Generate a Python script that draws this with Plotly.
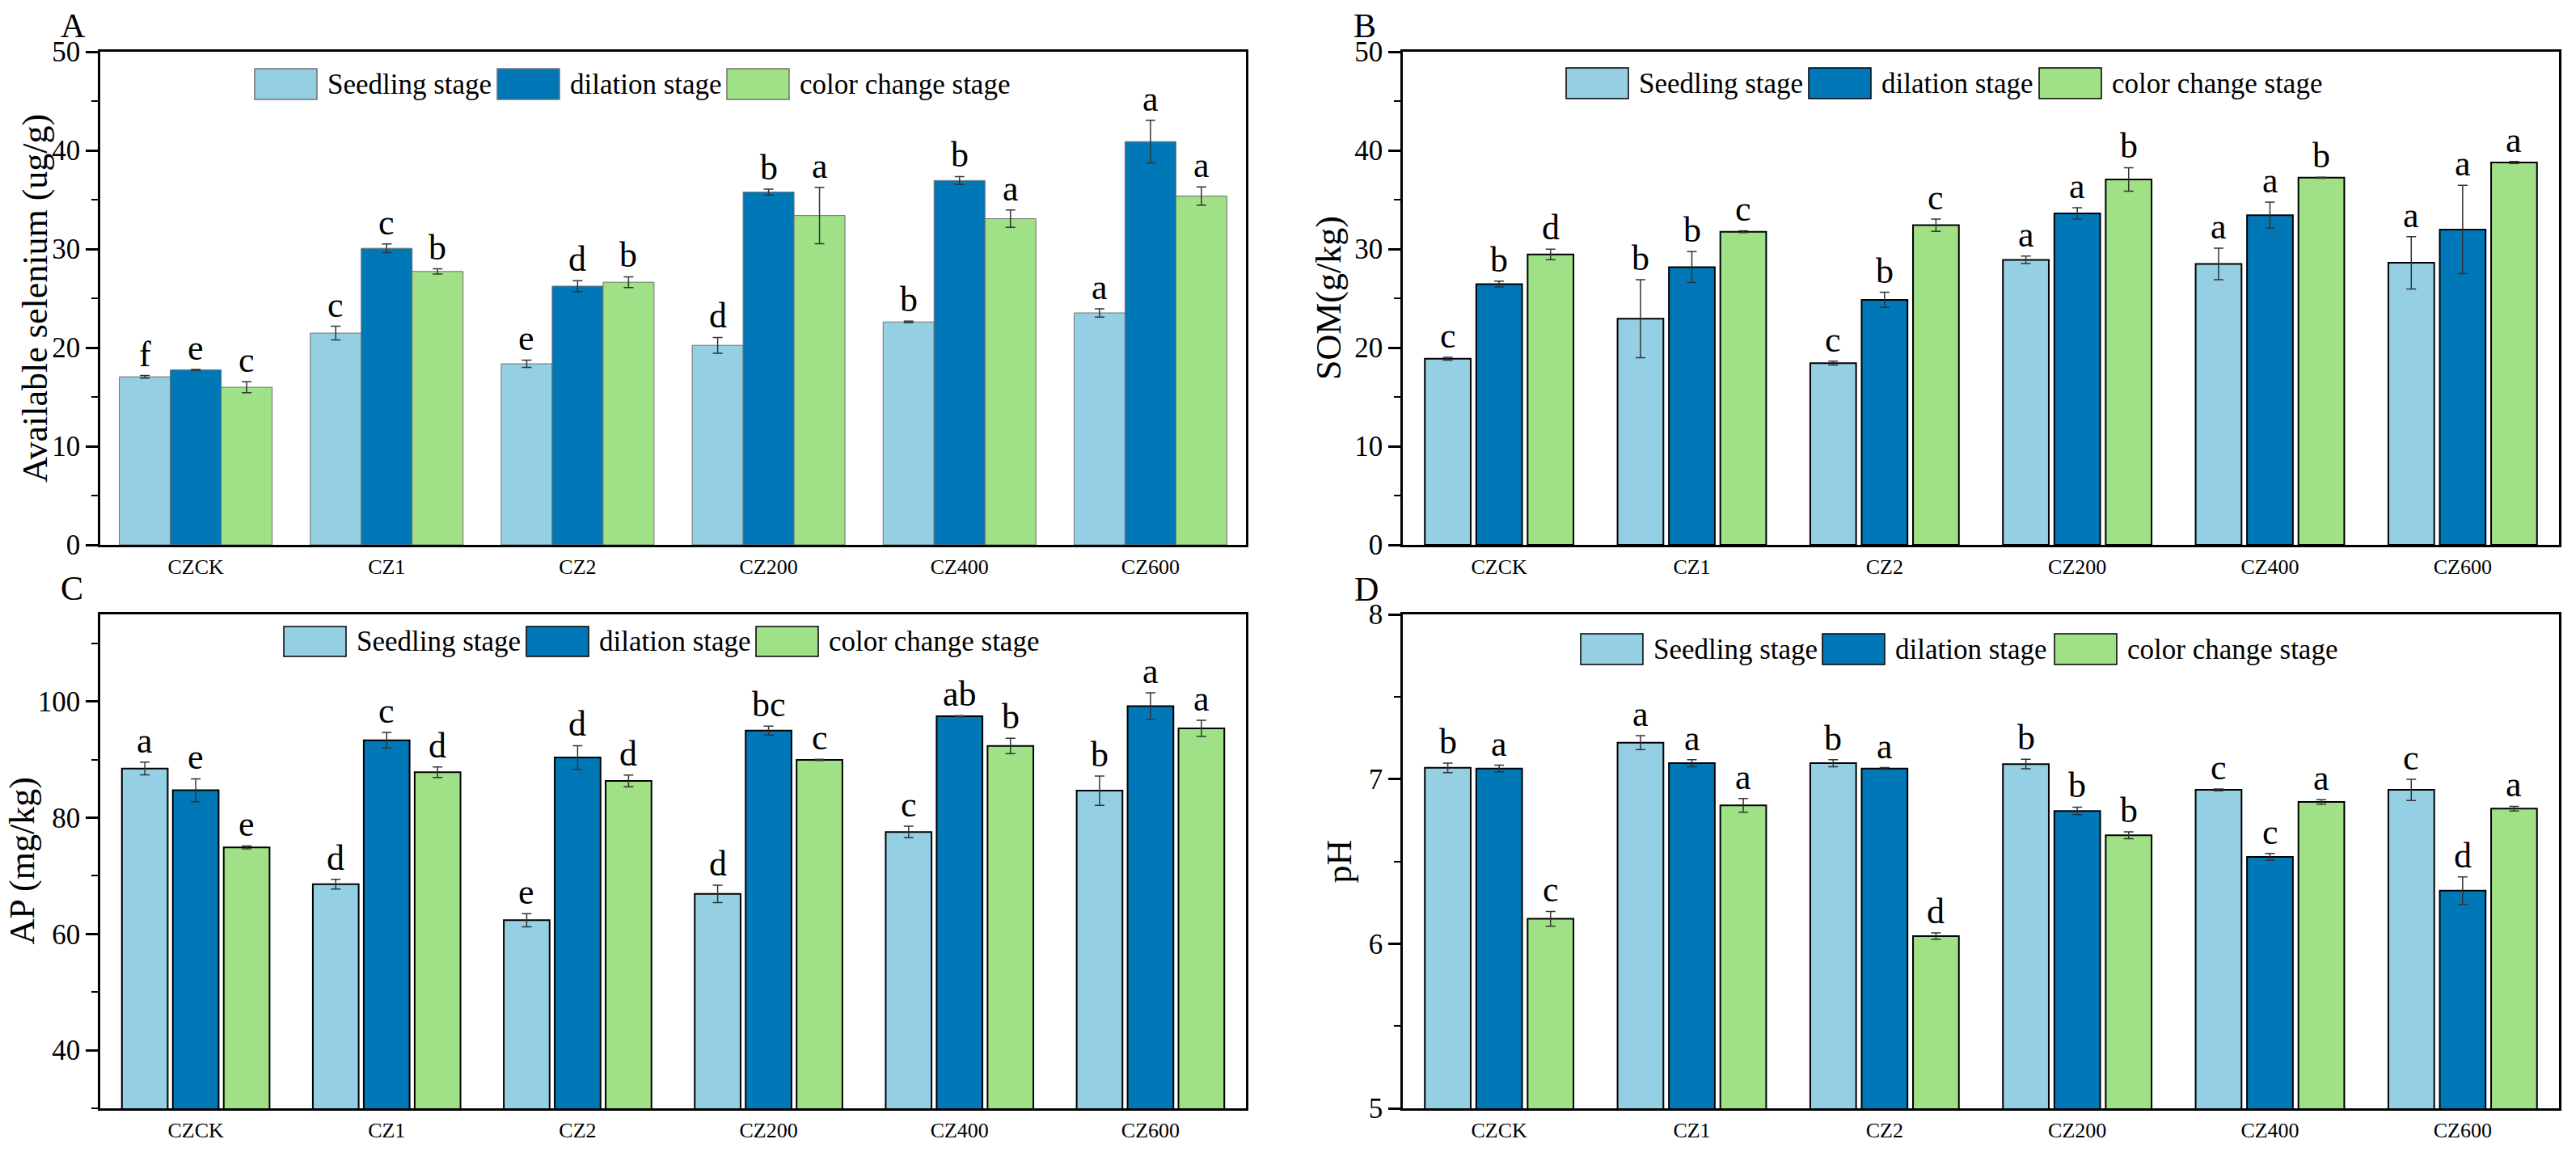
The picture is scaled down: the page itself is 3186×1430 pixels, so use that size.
import plotly.graph_objects as go

W, H = 3186, 1430
FONT = "Liberation Serif, Times New Roman, serif"

categories = ["CZCK", "CZ1", "CZ2", "CZ200", "CZ400", "CZ600"]
series_names = ["Seedling stage", "dilation stage", "color change stage"]
series_colors = ["#94CFE4", "#0078B8", "#A0E086"]

# Panel A: Available selenium (ug/g)
se_seedling = [17.04, 21.47, 18.36, 20.23, 22.60, 23.52]
se_seedling_err = [0.13, 0.70, 0.37, 0.80, 0.08, 0.42]
se_dilation = [17.74, 30.07, 26.23, 35.77, 36.94, 40.89]
se_dilation_err = [0.05, 0.44, 0.55, 0.30, 0.40, 2.16]
se_color = [15.98, 27.72, 26.63, 33.39, 33.07, 35.37]
se_color_err = [0.55, 0.27, 0.55, 2.85, 0.88, 0.93]
se_letters_seedling = ["f", "c", "e", "d", "b", "a"]
se_letters_dilation = ["e", "c", "d", "b", "b", "a"]
se_letters_color = ["c", "b", "b", "a", "a", "a"]

# Panel B: SOM (g/kg)
som_seedling = [18.87, 22.93, 18.43, 28.90, 28.49, 28.60]
som_seedling_err = [0.15, 3.95, 0.20, 0.38, 1.60, 2.65]
som_dilation = [26.44, 28.16, 24.84, 33.61, 33.43, 31.97]
som_dilation_err = [0.30, 1.57, 0.77, 0.57, 1.32, 4.48]
som_color = [29.44, 31.75, 32.41, 37.05, 37.23, 38.77]
som_color_err = [0.53, 0.10, 0.62, 1.19, 0.05, 0.10]
som_letters_seedling = ["c", "b", "c", "a", "a", "a"]
som_letters_dilation = ["b", "b", "b", "a", "a", "a"]
som_letters_color = ["d", "c", "c", "b", "b", "a"]

# Panel C: AP (mg/kg)
ap_seedling = [88.48, 68.57, 62.37, 66.89, 77.56, 84.67]
ap_seedling_err = [1.10, 0.84, 1.13, 1.49, 1.00, 2.52]
ap_dilation = [84.73, 93.33, 90.36, 95.00, 97.47, 99.21]
ap_dilation_err = [1.97, 1.36, 2.04, 0.78, 0.10, 2.30]
ap_color = [74.90, 87.83, 86.35, 89.97, 92.36, 95.40]
ap_color_err = [0.26, 0.90, 1.00, 0.10, 1.33, 1.39]
ap_letters_seedling = ["a", "d", "e", "d", "c", "b"]
ap_letters_dilation = ["e", "c", "d", "bc", "ab", "a"]
ap_letters_color = ["e", "d", "d", "c", "b", "a"]

# Panel D: pH
ph_seedling = [7.068, 7.221, 7.096, 7.091, 6.934, 6.934]
ph_seedling_err = [0.029, 0.042, 0.022, 0.029, 0.005, 0.064]
ph_dilation = [7.064, 7.096, 7.064, 6.806, 6.527, 6.322]
ph_dilation_err = [0.020, 0.022, 0.005, 0.023, 0.021, 0.084]
ph_color = [6.151, 6.840, 6.046, 6.658, 6.861, 6.820]
ph_color_err = [0.045, 0.042, 0.020, 0.021, 0.014, 0.014]
ph_letters_seedling = ["b", "a", "b", "b", "c", "c"]
ph_letters_dilation = ["a", "a", "a", "b", "c", "d"]
ph_letters_color = ["c", "a", "d", "b", "a", "a"]

panels = [
    dict(label="A", title="Available selenium (ug/g)",
         vals=[se_seedling, se_dilation, se_color],
         errs=[se_seedling_err, se_dilation_err, se_color_err],
         letters=[se_letters_seedling, se_letters_dilation, se_letters_color],
         yrange=[0, 50], dtick=10, minor=5,
         px=(124, 1541, 64, 674), bar_w=0.8 / 3, line_color="#707070", line_w=1,
         leg_x=[191, 491, 775], leg_y=(21, 59), title_x=43, label_xy=(90, 32)),
    dict(label="B", title="SOM(g/kg)",
         vals=[som_seedling, som_dilation, som_color],
         errs=[som_seedling_err, som_dilation_err, som_color_err],
         letters=[som_letters_seedling, som_letters_dilation, som_letters_color],
         yrange=[0, 50], dtick=10, minor=5,
         px=(1735, 3165, 64, 674), bar_w=0.238, line_color="#000000", line_w=2,
         leg_x=[202, 502, 787], leg_y=(20, 58), title_x=1643, label_xy=(1688, 32)),
    dict(label="C", title="AP (mg/kg)",
         vals=[ap_seedling, ap_dilation, ap_color],
         errs=[ap_seedling_err, ap_dilation_err, ap_color_err],
         letters=[ap_letters_seedling, ap_letters_dilation, ap_letters_color],
         yrange=[30, 115], dtick=20, minor=10,
         px=(124, 1541, 760, 1371), bar_w=0.240, line_color="#000000", line_w=2,
         leg_x=[227, 527, 811], leg_y=(15, 52), title_x=27, label_xy=(89, 728)),
    dict(label="D", title="pH",
         vals=[ph_seedling, ph_dilation, ph_color],
         errs=[ph_seedling_err, ph_dilation_err, ph_color_err],
         letters=[ph_letters_seedling, ph_letters_dilation, ph_letters_color],
         yrange=[5, 8], dtick=1, minor=0.5,
         px=(1735, 3165, 760, 1371), bar_w=0.238, line_color="#000000", line_w=2,
         leg_x=[220, 519, 806], leg_y=(24, 62), title_x=1656, label_xy=(1690, 729)),
]

fig = go.Figure()
annotations = []
shapes = []
layout = {}
slot = 0.8 / 3

for k, p in enumerate(panels):
    n = "" if k == 0 else str(k + 1)
    xa, ya = "x" + n, "y" + n
    L, R, T, B = p["px"]
    pw, ph_ = R - L, B - T
    cat_px = pw / len(categories)
    bw = p["bar_w"]
    for i in range(3):
        off = -0.4 + i * slot + (slot - bw) / 2
        fig.add_trace(go.Bar(
            x=categories, y=p["vals"][i], name=series_names[i],
            width=bw, offset=off, xaxis=xa, yaxis=ya, showlegend=False,
            marker=dict(color=series_colors[i], line=dict(color=p["line_color"], width=p["line_w"])),
            error_y=dict(type="data", array=p["errs"][i], visible=True,
                         color="#333333", thickness=1.5, width=6),
        ))
        center = off + bw / 2
        for j, c in enumerate(categories):
            annotations.append(dict(
                x=c, y=p["vals"][i][j] + p["errs"][i][j], xref=xa, yref=ya,
                text=p["letters"][i][j], showarrow=False, xanchor="center", yanchor="bottom",
                xshift=center * cat_px, yshift=0,
                font=dict(family=FONT, size=44, color="black")))
    # legend drawn as swatches + text
    y0 = 1 - p["leg_y"][1] / ph_
    y1 = 1 - p["leg_y"][0] / ph_
    for i in range(3):
        x0 = p["leg_x"][i] / pw
        x1 = (p["leg_x"][i] + 77) / pw
        shapes.append(dict(type="rect", xref=xa + " domain", yref=ya + " domain",
                           x0=x0, x1=x1, y0=y0, y1=y1, fillcolor=series_colors[i],
                           line=dict(color=p["line_color"] if k else "#707070", width=1.5)))
        annotations.append(dict(
            x=(p["leg_x"][i] + 88) / pw, y=(y0 + y1) / 2, xref=xa + " domain", yref=ya + " domain",
            text=series_names[i], showarrow=False, xanchor="left", yanchor="middle",
            font=dict(family=FONT, size=35, color="black")))
    # axis title
    annotations.append(dict(
        x=p["title_x"] / W, y=1 - (T + B) / 2 / H, xref="paper", yref="paper",
        text=p["title"], textangle=-90, showarrow=False, xanchor="center", yanchor="middle",
        font=dict(family=FONT, size=44, color="black")))
    # panel label
    annotations.append(dict(
        x=p["label_xy"][0] / W, y=1 - p["label_xy"][1] / H, xref="paper", yref="paper",
        text=p["label"], showarrow=False, xanchor="center", yanchor="middle",
        font=dict(family=FONT, size=42, color="black")))

    layout["xaxis" + n] = dict(
        domain=[L / W, R / W], anchor=ya, type="category", range=[-0.5, 5.5],
        showline=True, linecolor="black", linewidth=2.5, mirror=True, automargin=False,
        ticks="", showgrid=False, zeroline=False, ticklabelstandoff=2,
        tickfont=dict(family=FONT, size=26, color="black"))
    layout["yaxis" + n] = dict(
        domain=[1 - B / H, 1 - T / H], anchor=xa, range=p["yrange"], dtick=p["dtick"], tick0=0,
        showline=True, linecolor="black", linewidth=2.5, mirror=True, automargin=False,
        ticks="outside", ticklen=15, tickwidth=2.5, tickcolor="black",
        minor=dict(ticks="outside", ticklen=8, tickwidth=2, tickcolor="black", dtick=p["minor"], tick0=0),
        showgrid=False, zeroline=False,
        tickfont=dict(family=FONT, size=35, color="black"))

fig.update_layout(
    width=W, height=H, margin=dict(l=0, r=0, t=0, b=0, autoexpand=False),
    paper_bgcolor="white", plot_bgcolor="white", barmode="overlay",
    annotations=annotations, shapes=shapes, showlegend=False,
    font=dict(family=FONT, color="black"),
    **layout)

fig.write_html("out.html", config={"displayModeBar": False},
               post_script="document.body.style.margin='0';document.body.style.overflow='hidden';")
